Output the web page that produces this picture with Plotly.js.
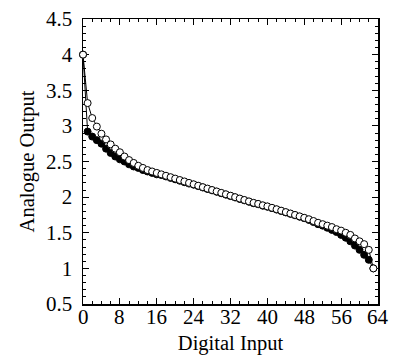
<!DOCTYPE html>
<html>
<head>
<meta charset="utf-8">
<script src="https://cdn.plot.ly/plotly-3.0.1.min.js"></script>
<style>html,body{margin:0;padding:0;background:#fff;}#chart{width:396px;height:358px;}</style>
</head>
<body>
<div id="chart"></div>
<script>
const digitalInput = [0,1,2,3,4,5,6,7,8,9,10,11,12,13,14,15,16,17,18,19,20,21,22,23,24,25,26,27,28,29,30,31,32,33,34,35,36,37,38,39,40,41,42,43,44,45,46,47,48,49,50,51,52,53,54,55,56,57,58,59,60,61,62,63];
const outputOpen = [4.00,3.32,3.11,2.99,2.89,2.81,2.74,2.68,2.63,2.57,2.52,2.48,2.44,2.41,2.38,2.36,2.34,2.32,2.30,2.28,2.26,2.24,2.22,2.20,2.18,2.16,2.14,2.12,2.10,2.08,2.06,2.04,2.02,2.00,1.98,1.96,1.94,1.92,1.905,1.885,1.87,1.85,1.83,1.81,1.79,1.77,1.75,1.73,1.71,1.69,1.665,1.64,1.62,1.60,1.58,1.55,1.53,1.50,1.47,1.42,1.38,1.34,1.26,1.00];
const outputFilled = [4.00,2.92,2.85,2.80,2.75,2.68,2.62,2.57,2.53,2.50,2.46,2.43,2.41,2.38,2.36,2.34,2.32,2.31,2.29,2.27,2.25,2.23,2.21,2.19,2.175,2.155,2.135,2.115,2.095,2.075,2.055,2.035,2.015,1.995,1.975,1.955,1.935,1.915,1.90,1.88,1.865,1.845,1.825,1.805,1.785,1.765,1.745,1.725,1.705,1.68,1.65,1.62,1.60,1.57,1.54,1.51,1.47,1.43,1.38,1.32,1.26,1.19,1.12,1.00];
const xTicks = [0,8,16,24,32,40,48,56,64];
const yTicks = [0.5,1,1.5,2,2.5,3,3.5,4,4.5];

const traces = [
  {x: digitalInput, y: outputFilled, type:'scatter', mode:'lines+markers', cliponaxis:false,
   line:{color:'#000', width:1}, marker:{symbol:'circle', size:7, color:'#000', line:{color:'#000', width:1}}},
  {x: digitalInput, y: outputOpen, type:'scatter', mode:'lines+markers', cliponaxis:false,
   line:{color:'#000', width:1}, marker:{symbol:'circle', size:7, color:'#fff', line:{color:'#000', width:1}}}
];
const fam = '"Liberation Serif", "Times New Roman", serif';
const xLabelAnnotations = xTicks.map(v => ({
  x: v, xref:'x', y: 0, yref:'paper', yanchor:'top', xanchor:'center', yshift:1,
  text: String(v), showarrow:false, font:{family:fam, size:21, color:'#000'}
}));
const layout = {
  width:396, height:358, showlegend:false,
  paper_bgcolor:'#fff', plot_bgcolor:'#fff',
  margin:{l:83, r:18, t:19, b:54},
  font: {family:fam, size:20, color:'#000'},
  annotations: xLabelAnnotations,
  xaxis:{range:[0,64], tickvals:xTicks, showticklabels:false, ticks:'inside', ticklen:6, tickwidth:1,
    tickcolor:'#000', showline:true, linecolor:'#000', linewidth:1.5, mirror:'allticks', showgrid:false, zeroline:false,
    layer:'below traces',
    minor:{dtick:2, tick0:0, ticks:'inside', ticklen:3, tickcolor:'#000', showgrid:false},
    title:{text:'Digital Input', font:{family:fam, size:20.5, color:'#000'}, standoff:31}, automargin:false},
  yaxis:{range:[0.5,4.5], tickvals:yTicks, ticktext:yTicks.map(String), ticks:'inside', ticklen:6, tickwidth:1,
    tickcolor:'#000', showline:true, linecolor:'#000', linewidth:1.5, mirror:'allticks', showgrid:false, zeroline:false,
    layer:'below traces', ticklabelstandoff:5,
    minor:{dtick:0.1, tick0:0.5, ticks:'inside', ticklen:3, tickcolor:'#000', showgrid:false},
    tickfont:{family:fam, size:21, color:'#000'},
    title:{text:'Analogue Output', font:{family:fam, size:20.5, color:'#000'}, standoff:6}, automargin:false}
};
Plotly.newPlot('chart', traces, layout, {staticPlot:true, displayModeBar:false});
</script>
</body>
</html>
